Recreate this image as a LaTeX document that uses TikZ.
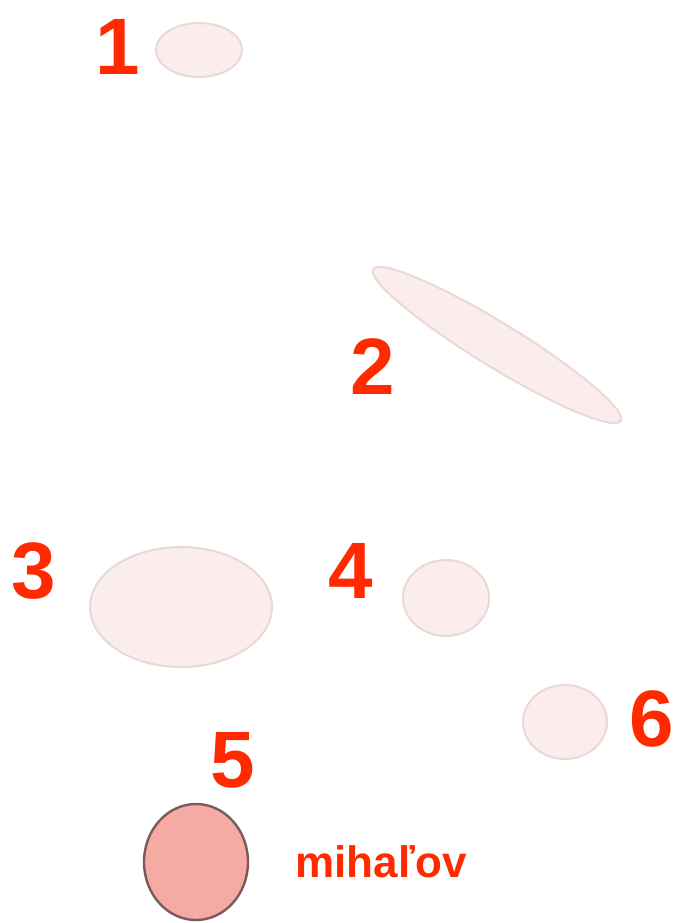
\documentclass[tikz,border=0pt]{standalone}
\usepackage{fontspec}
\setmainfont{Liberation Sans}
\usepackage{tikz}
\usetikzlibrary{shapes.geometric}

\definecolor{numred}{HTML}{FF2A00}
\definecolor{pale}{HTML}{FCEDED}
\definecolor{paleline}{HTML}{EAD8D8}
\definecolor{hot}{HTML}{F6AAA4}
\definecolor{hotline}{HTML}{7A5A5A}

\begin{document}
\begin{tikzpicture}[
  x=0.5pt, y=-0.5pt,
  area/.style={ellipse, draw=paleline, fill=pale, line width=1pt, inner sep=0pt},
  marked/.style={ellipse, draw=hotline, fill=hot, line width=1.2pt, inner sep=0pt},
  num/.style={text=numred, font=\fontsize{40}{48}\selectfont\bfseries, inner sep=0pt},
  every node/.style={draw=none}
]
\useasboundingbox (0,0) rectangle (677,923);

% areas
\node[area, minimum width=43pt, minimum height=27pt] (a1) at (199,50) {};
\node[area, minimum width=145pt, minimum height=22pt, rotate=-31.5] (a2) at (497,345) {};
\node[area, minimum width=91pt, minimum height=60pt] (a3) at (181,607) {};
\node[area, minimum width=43pt, minimum height=38pt] (a4) at (446,598) {};
\node[marked, minimum width=52pt, minimum height=58pt] (a5) at (196,862) {};
\node[area, minimum width=42pt, minimum height=37pt] (a6) at (565,722) {};

% numbers
\node[num] (n1) at (118,47) {1};
\node[num] (n2) at (373,367) {2};
\node[num] (n3) at (34,571) {3};
\node[num] (n4) at (351,571) {4};
\node[num] (n5) at (233,760) {5};
\node[num] (n6) at (652,719) {6};

\node[text=numred, font=\fontsize{22}{26}\selectfont\bfseries, inner sep=0pt] (name5) at (381,862) {mihaľov};

\end{tikzpicture}
\end{document}
